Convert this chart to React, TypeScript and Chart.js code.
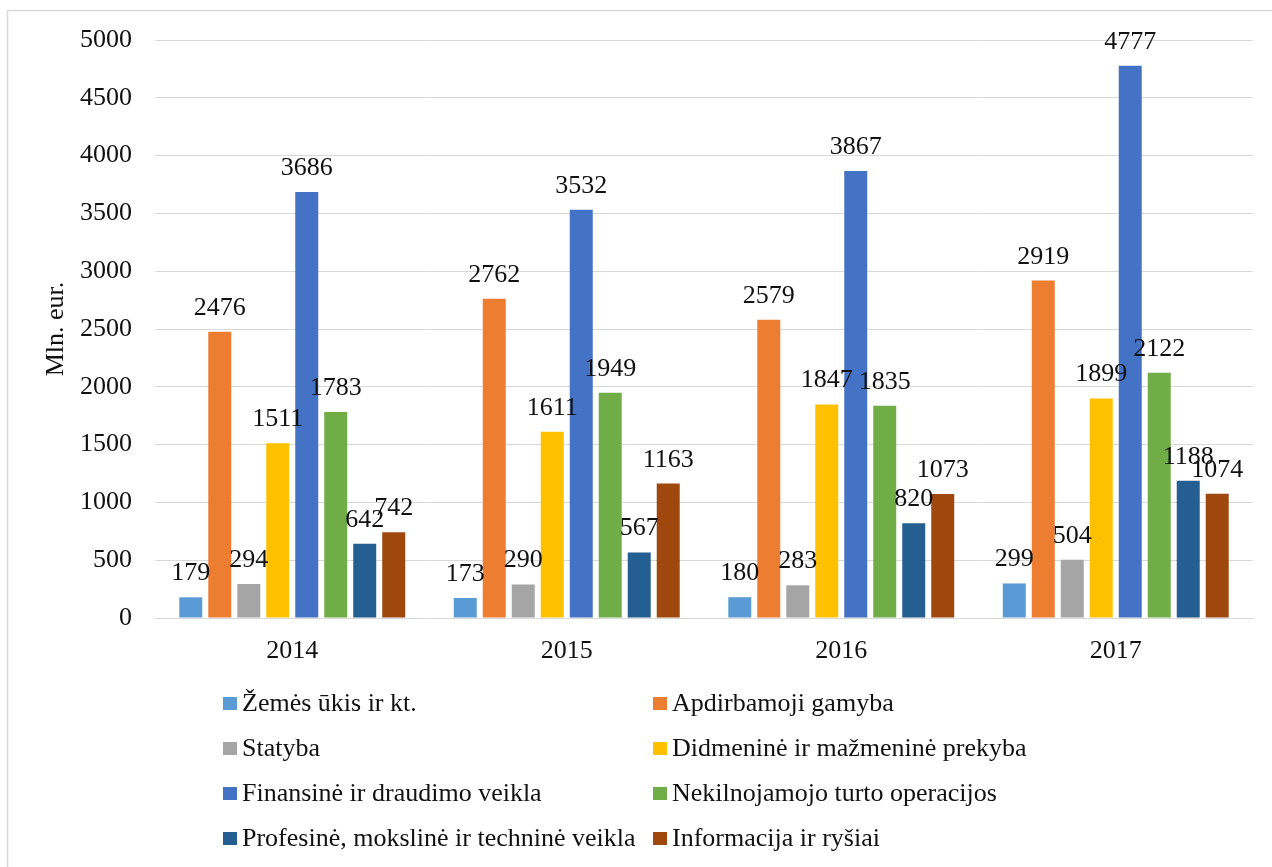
import React, { useEffect, useRef } from "react";
import { Chart, registerables } from "chart.js";

Chart.register(...registerables);

const years = ["2014", "2015", "2016", "2017"];
const seriesNames = [
  "Žemės ūkis ir kt.",
  "Apdirbamoji gamyba",
  "Statyba",
  "Didmeninė ir mažmeninė prekyba",
  "Finansinė ir draudimo veikla",
  "Nekilnojamojo turto operacijos",
  "Profesinė, mokslinė ir techninė veikla",
  "Informacija ir ryšiai",
];
const zemesUkis = [179, 173, 180, 299];
const apdirbamoji = [2476, 2762, 2579, 2919];
const statyba = [294, 290, 283, 504];
const prekyba = [1511, 1611, 1847, 1899];
const finansine = [3686, 3532, 3867, 4777];
const nekilnojamojo = [1783, 1949, 1835, 2122];
const profesine = [642, 567, 820, 1188];
const informacija = [742, 1163, 1073, 1074];
const seriesColors = [
  "#5B9BD5",
  "#ED7D31",
  "#A5A5A5",
  "#FFC000",
  "#4472C4",
  "#70AD47",
  "#255E91",
  "#9E480E",
];
const yMin = 0;
const yMax = 5000;
const yStep = 500;
const yTitle = "Mln. eur.";

const FONT = "'Liberation Serif', 'Times New Roman', serif";

const frameBorder = {
  id: "frameBorder",
  afterDraw(chart: any) {
    const ctx = chart.ctx;
    ctx.save();
    ctx.strokeStyle = "#d9d9d9";
    ctx.lineWidth = 1.5;
    ctx.strokeRect(7.5, 10.5, chart.width + 20, chart.height + 20);
    ctx.restore();
  },
};

const dataLabels = {
  id: "dataLabels",
  afterDatasetsDraw(chart: any) {
    const ctx = chart.ctx;
    ctx.save();
    ctx.font = `26px ${FONT}`;
    ctx.fillStyle = "#111";
    ctx.textAlign = "center";
    ctx.textBaseline = "alphabetic";
    chart.data.datasets.forEach((ds: any, di: number) => {
      const meta = chart.getDatasetMeta(di);
      meta.data.forEach((el: any, i: number) => {
        ctx.fillText(String(ds.data[i]), el.x, el.y - 17);
      });
    });
    ctx.restore();
  },
};

const customLegend = {
  id: "customLegend",
  afterDraw(chart: any) {
    const ctx = chart.ctx;
    ctx.save();
    ctx.font = `26px ${FONT}`;
    ctx.textAlign = "left";
    ctx.textBaseline = "alphabetic";
    const colX = [223, 653];
    const baseY = 711;
    const rowH = 45;
    chart.data.datasets.forEach((ds: any, i: number) => {
      const col = i % 2;
      const row = Math.floor(i / 2);
      const x = colX[col];
      const y = baseY + row * rowH;
      ctx.fillStyle = ds.backgroundColor;
      ctx.fillRect(x, y - 14, 14, 13);
      ctx.fillStyle = "#111";
      ctx.fillText(ds.label, x + 19, y);
    });
    ctx.restore();
  },
};

export default function App() {
  const ref = useRef<HTMLCanvasElement>(null);
  useEffect(() => {
    if (!ref.current) return;
    const seriesData = [
      zemesUkis,
      apdirbamoji,
      statyba,
      prekyba,
      finansine,
      nekilnojamojo,
      profesine,
      informacija,
    ];
    const chart = new Chart(ref.current, {
      type: "bar",
      data: {
        labels: years,
        datasets: seriesData.map((d, i) => ({
          label: seriesNames[i],
          data: d,
          backgroundColor: seriesColors[i],
          borderWidth: 0,
          categoryPercentage: 0.845,
          barPercentage: 0.793,
        })),
      },
      options: {
        responsive: false,
        animation: false,
        layout: { padding: { left: 0, top: 40, right: 19, bottom: 189 } },
        plugins: {
          legend: { display: false },
          tooltip: { enabled: false },
        },
        scales: {
          x: {
            grid: { display: false, drawTicks: false },
            border: { display: true, color: "#d9d9d9" },
            ticks: {
              color: "#111",
              font: { family: FONT, size: 26 },
              padding: 18,
            },
            afterFit(scale: any) {
              scale.height = 60;
            },
          },
          y: {
            min: yMin,
            max: yMax,
            grid: { color: "#d9d9d9", lineWidth: 1, drawTicks: false },
            border: { display: false },
            ticks: {
              stepSize: yStep,
              color: "#111",
              font: { family: FONT, size: 26 },
              padding: 23,
              callback: (v: any) => String(v),
            },
            title: {
              display: true,
              text: yTitle,
              color: "#111",
              font: { family: FONT, size: 26 },
              padding: { top: 41, bottom: 0 },
            },
            afterFit(scale: any) {
              scale.width = 155;
            },
          },
        },
      },
      plugins: [dataLabels, customLegend, frameBorder],
    });
    return () => chart.destroy();
  }, []);
  return (
    <div style={{ position: "fixed", left: 0, top: 0, width: 1272, height: 867, background: "#fff" }}>
      <canvas ref={ref} width={1272} height={867} style={{ display: "block" }} />
    </div>
  );
}
